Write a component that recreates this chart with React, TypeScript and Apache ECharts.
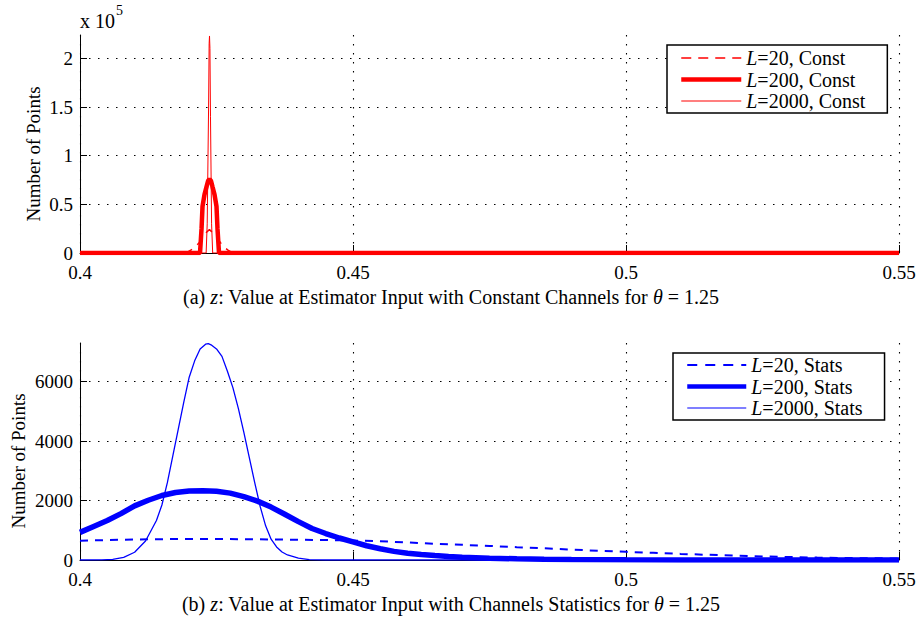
import React, { useEffect, useRef } from 'react';
import * as echarts from 'echarts';

const FONT = '"Liberation Serif", "Times New Roman", serif';

// Tick values
const xTicks = [0.4, 0.45, 0.5, 0.55];
const topYTicks = [0, 50000, 100000, 150000, 200000];
const bottomYTicks = [0, 2000, 4000, 6000];

// (a) Constant channels
const constL20X = [0.4, 0.4194, 0.4203, 0.4212, 0.4221, 0.4229, 0.4237, 0.4245, 0.4253, 0.4262, 0.4271, 0.428, 0.55];
const constL20Y = [0, 0, 3000, 7000, 12000, 20000, 24000, 20000, 14000, 7000, 3000, 0, 0];

const constL200X = [0.4, 0.42198, 0.42226, 0.42244, 0.4228, 0.42317, 0.42345, 0.42372, 0.424, 0.42427, 0.42464, 0.425, 0.42518, 0.42546, 0.55];
const constL200Y = [0, 0, 25000, 48000, 60000, 68000, 74000, 76000, 74000, 68000, 60000, 48000, 25000, 0, 0];

const constL2000X = [0.4, 0.4231, 0.4233, 0.42355, 0.42365, 0.42372, 0.4238, 0.4239, 0.4241, 0.4243, 0.55];
const constL2000Y = [0, 0, 30000, 150000, 215000, 223000, 210000, 140000, 30000, 0, 0];

// (b) Channel statistics
const statsL20X = [0.4, 0.405, 0.41, 0.415, 0.42, 0.425, 0.43, 0.435, 0.44, 0.445, 0.45, 0.455, 0.46, 0.465, 0.47, 0.475, 0.48, 0.485, 0.49, 0.495, 0.5, 0.505, 0.51, 0.515, 0.52, 0.525, 0.53, 0.535, 0.54, 0.545, 0.55];
const statsL20Y = [650, 670, 690, 700, 710, 705, 700, 690, 680, 670, 655, 630, 590, 545, 510, 475, 430, 395, 350, 310, 275, 240, 205, 175, 145, 120, 100, 82, 68, 58, 50];

const statsL200X = [0.4, 0.4025, 0.405, 0.4075, 0.41, 0.4125, 0.415, 0.4175, 0.42, 0.4225, 0.425, 0.4275, 0.43, 0.4325, 0.435, 0.4375, 0.44, 0.4425, 0.445, 0.4475, 0.45, 0.4525, 0.455, 0.4575, 0.46, 0.4625, 0.465, 0.4675, 0.47, 0.475, 0.48, 0.485, 0.49, 0.5, 0.51, 0.525, 0.55];
const statsL200Y = [930, 1130, 1330, 1560, 1820, 2010, 2170, 2270, 2320, 2330, 2310, 2250, 2130, 1980, 1780, 1540, 1290, 1060, 890, 740, 610, 480, 380, 290, 225, 185, 150, 120, 95, 60, 40, 26, 17, 8, 4, 2, 0];

const statsL2000X = [0.4, 0.404, 0.406, 0.408, 0.41, 0.412, 0.414, 0.415, 0.416, 0.417, 0.418, 0.419, 0.42, 0.421, 0.422, 0.423, 0.4235, 0.424, 0.425, 0.426, 0.427, 0.428, 0.429, 0.43, 0.431, 0.432, 0.433, 0.434, 0.435, 0.436, 0.437, 0.438, 0.44, 0.442, 0.445, 0.55];
const statsL2000Y = [0, 5, 20, 90, 260, 640, 1330, 1850, 2600, 3500, 4400, 5300, 6150, 6700, 7100, 7260, 7280, 7240, 7100, 6850, 6350, 5800, 5100, 4300, 3450, 2600, 1800, 1150, 700, 440, 270, 170, 60, 15, 0, 0];

const zip = (xs: number[], ys: number[]) => xs.map((x, i) => [x, ys[i]]);

const gridLine = { color: '#000', width: 1.1, type: [1.5, 7.5] as any };

const xAxisFor = (gridIndex: number) => ({
  type: 'value',
  gridIndex,
  min: 0.4,
  max: 0.55,
  interval: 0.05,
  axisLine: { show: true, onZero: false, lineStyle: { color: '#000', width: 1 } },
  axisTick: { show: true, inside: true, length: 8, customValues: xTicks, lineStyle: { color: '#000' } },
  axisLabel: {
    show: true,
    margin: 10,
    color: '#000',
    fontSize: 19,
    fontFamily: FONT,
    customValues: xTicks,
    formatter: (v: number) => String(+v.toFixed(2)),
  },
  splitLine: { show: true, lineStyle: gridLine },
});

const yAxisFor = (gridIndex: number, max: number, interval: number, ticks: number[], fmt: (v: number) => string) => ({
  type: 'value',
  gridIndex,
  min: 0,
  max,
  interval,
  axisLine: { show: true, onZero: false, lineStyle: { color: '#000', width: 1 } },
  axisTick: { show: true, inside: true, length: 7, customValues: ticks, lineStyle: { color: '#000' } },
  axisLabel: {
    show: true,
    margin: 7,
    color: '#000',
    fontSize: 19,
    fontFamily: FONT,
    customValues: ticks,
    formatter: (v: number) => (ticks.indexOf(v) >= 0 ? fmt(v) : ''),
  },
  splitLine: { show: true, lineStyle: gridLine },
});

const legendText = {
  fontFamily: FONT,
  fontSize: 20,
  color: '#000',
  lineHeight: 20,
  rich: {
    i: { fontFamily: FONT, fontSize: 20, fontStyle: 'italic', color: '#000', lineHeight: 20 },
    n: { fontFamily: FONT, fontSize: 20, color: '#000', lineHeight: 20 },
  },
};

const legendFmt = (name: string) => '{i|L}{n|' + name.slice(1) + '}';
const hiddenSymbol = { opacity: 0, color: 'rgba(0,0,0,0)', borderWidth: 0 };

const lineSeries = (
  name: string,
  xs: number[],
  ys: number[],
  color: string,
  width: number,
  dashed: boolean,
  idx: number,
  z: number
) => ({
  type: 'line',
  name,
  xAxisIndex: idx,
  yAxisIndex: idx,
  data: zip(xs, ys),
  symbol: 'none',
  showSymbol: false,
  smooth: false,
  z,
  lineStyle: { color, width, type: dashed ? [8, 7] : 'solid' },
  itemStyle: { color },
  emphasis: { disabled: true },
});

const captionRich = {
  i: { fontFamily: FONT, fontSize: 20, fontStyle: 'italic', fill: '#000' },
};

const textStyle = (text: string, size: number, align: string) => ({
  text,
  fontFamily: FONT,
  fontSize: size,
  fill: '#000',
  align,
  verticalAlign: 'middle',
  textAlign: align,
  textVerticalAlign: 'middle',
});

export default function App() {
  const ref = useRef<HTMLDivElement>(null);
  useEffect(() => {
    document.body.style.margin = '0';
    const chart = echarts.init(ref.current!, null, { renderer: 'svg' });
    const option: any = {
      animation: false,
      backgroundColor: '#fff',
      grid: [
        { left: 80, top: 35, width: 819, height: 218, containLabel: false, outerBoundsMode: 'none' },
        { left: 80, top: 343, width: 819, height: 217, containLabel: false, outerBoundsMode: 'none' },
      ],
      xAxis: [xAxisFor(0), xAxisFor(1)],
      yAxis: [
        yAxisFor(0, 224000, 50000, topYTicks, (v) => String(v / 100000)),
        yAxisFor(1, 7300, 2000, bottomYTicks, (v) => String(v)),
      ],
      legend: [
        {
          left: 667,
          top: 45,
          orient: 'vertical',
          itemWidth: 60,
          itemHeight: 20,
          itemGap: 1.5,
          padding: [3, 22, 2, 12],
          borderColor: '#000',
          borderWidth: 1.5,
          backgroundColor: '#fff',
          selectedMode: false,
          formatter: legendFmt,
          textStyle: legendText,
          data: [
            { name: 'L=20, Const', itemStyle: hiddenSymbol, lineStyle: { width: 1.5, type: [10, 7], color: '#ff0000' } },
            { name: 'L=200, Const', itemStyle: hiddenSymbol, lineStyle: { width: 4.5, color: '#ff0000' } },
            { name: 'L=2000, Const', itemStyle: hiddenSymbol, lineStyle: { width: 1.2, color: '#ff0000' } },
          ],
        },
        {
          left: 673,
          top: 353,
          orient: 'vertical',
          itemWidth: 59,
          itemHeight: 20,
          itemGap: 1.5,
          padding: [2, 22, 2, 12],
          borderColor: '#000',
          borderWidth: 1.5,
          backgroundColor: '#fff',
          selectedMode: false,
          formatter: legendFmt,
          textStyle: legendText,
          data: [
            { name: 'L=20, Stats', itemStyle: hiddenSymbol, lineStyle: { width: 1.8, type: [10, 8], color: '#0000ff' } },
            { name: 'L=200, Stats', itemStyle: hiddenSymbol, lineStyle: { width: 4.5, color: '#0000ff' } },
            { name: 'L=2000, Stats', itemStyle: hiddenSymbol, lineStyle: { width: 1.2, color: '#0000ff' } },
          ],
        },
      ],
      series: [
        lineSeries('L=20, Const', constL20X, constL20Y, '#ff0000', 1.5, true, 0, 2),
        lineSeries('L=200, Const', constL200X, constL200Y, '#ff0000', 4.5, false, 0, 3),
        lineSeries('L=2000, Const', constL2000X, constL2000Y, '#ff0000', 1, false, 0, 4),
        lineSeries('L=20, Stats', statsL20X, statsL20Y, '#0000ff', 2, true, 1, 3),
        lineSeries('L=200, Stats', statsL200X, statsL200Y, '#0000ff', 5.5, false, 1, 2),
        lineSeries('L=2000, Stats', statsL2000X, statsL2000Y, '#0000ff', 1.3, false, 1, 4),
      ],
      graphic: [
        { type: 'text', x: 80, y: 21, style: textStyle('x 10', 20, 'left') },
        { type: 'text', x: 116, y: 10, style: textStyle('5', 14, 'left') },
        { type: 'text', x: 33, y: 154, rotation: Math.PI / 2, style: textStyle('Number of Points', 19, 'center') },
        { type: 'text', x: 18, y: 461, rotation: Math.PI / 2, style: textStyle('Number of Points', 19, 'center') },
        {
          type: 'text',
          x: 451,
          y: 297,
          style: {
            ...textStyle('(a) {i|z}: Value at Estimator Input with Constant Channels for {i|θ} = 1.25', 20, 'center'),
            rich: captionRich,
          },
        },
        {
          type: 'text',
          x: 451,
          y: 604,
          style: {
            ...textStyle('(b) {i|z}: Value at Estimator Input with Channels Statistics for {i|θ} = 1.25', 20, 'center'),
            rich: captionRich,
          },
        },
      ],
    };
    chart.setOption(option);
    return () => chart.dispose();
  }, []);
  return (
    <div
      ref={ref}
      style={{ position: 'absolute', left: 0, top: 0, width: 918, height: 619, background: '#fff' }}
    />
  );
}
